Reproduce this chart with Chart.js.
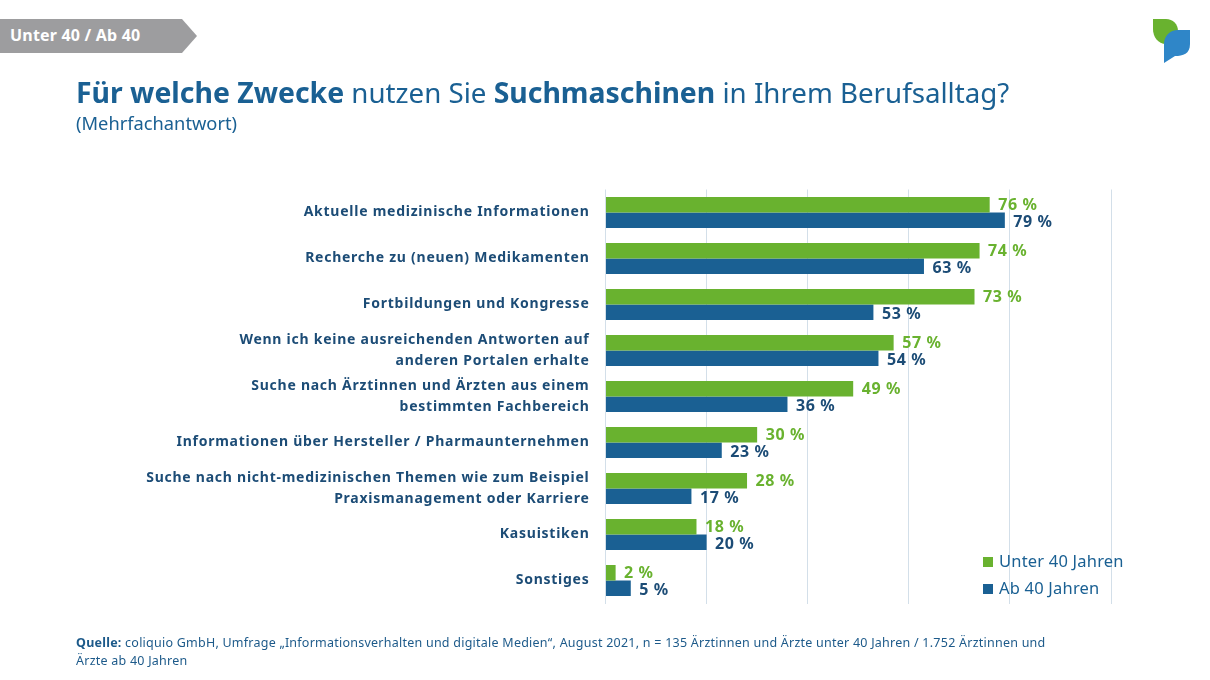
<!DOCTYPE html>
<html lang="de">
<head>
<meta charset="utf-8">
<title>Suchmaschinen im Berufsalltag</title>
<script src="https://cdn.jsdelivr.net/npm/chart.js@4"></script>
<style>
    html, body { margin: 0; padding: 0; background: #fff; }
    #page { position: relative; width: 1210px; height: 680px; overflow: hidden; font-family: "Noto Sans", sans-serif; color: #1a6093; }
    #page > * { position: absolute; }
    canvas { left: 0; top: 0; }
    .tag { left: 0; top: 19px; width: 197px; height: 34px; background: #9d9d9f; clip-path: polygon(0 0, 182px 0, 197px 17px, 182px 34px, 0 34px); color: #fff; font-weight: 700; font-size: 16px; letter-spacing: 0.2px; line-height: 33px; text-indent: 10px; }
    .logo { left: 1150px; top: 16px; }
    h1 { left: 76px; top: 73px; margin: 0; font-size: 27.7px; line-height: 38px; font-weight: 400; white-space: nowrap; }
    h1 b { font-weight: 700; font-size: 28.4px; }
    .sub { left: 76px; top: 111px; font-size: 18.3px; line-height: 24px; }
    .legend { left: 983px; top: 547px; font-size: 16.5px; letter-spacing: 0.2px; line-height: 27px; }
    .legend i { display: inline-block; width: 10px; height: 10px; margin-right: 6px; }
    .source { left: 76px; top: 634px; width: 1000px; font-size: 12.5px; letter-spacing: 0.24px; line-height: 17.5px; color: #1d5a8a; white-space: nowrap; }
</style>
</head>
<body>
<div id="page">
    <canvas id="chart" width="1210" height="680"></canvas>
    <div class="tag">Unter 40 / Ab 40</div>
    <svg class="logo" width="44" height="50" viewBox="0 0 44 50">
        <path d="M3 3 H16 C23 3 28 8 28 15 C28 21 24 28 16 28 C8 28 3 21 3 13 Z" fill="#69b22f"/>
        <path d="M40 14 V28 C40 38 33 40 25 40 L14 47 V28 C14 20 20 14 28 14 Z" fill="#2f86c8"/>
    </svg>
    <h1><b>Für welche Zwecke</b> nutzen Sie <b>Suchmaschinen</b> in Ihrem Berufsalltag?</h1>
    <div class="sub">(Mehrfachantwort)</div>
    <div class="legend" id="legend"></div>
    <div class="source"><b>Quelle:</b> coliquio GmbH, Umfrage „Informationsverhalten und digitale Medien“, August 2021, n = 135 Ärztinnen und Ärzte unter 40 Jahren / 1.752 Ärztinnen und<br>Ärzte ab 40 Jahren</div>
</div>
<script>
const categories = [
    'Aktuelle medizinische Informationen',
    'Recherche zu (neuen) Medikamenten',
    'Fortbildungen und Kongresse',
    ['Wenn ich keine ausreichenden Antworten auf', 'anderen Portalen erhalte'],
    ['Suche nach Ärztinnen und Ärzten aus einem', 'bestimmten Fachbereich'],
    'Informationen über Hersteller / Pharmaunternehmen',
    ['Suche nach nicht-medizinischen Themen wie zum Beispiel', 'Praxismanagement oder Karriere'],
    'Kasuistiken',
    'Sonstiges'
];
const unter40 = [76, 74, 73, 57, 49, 30, 28, 18, 2];
const ab40 = [79, 63, 53, 54, 36, 23, 17, 20, 5];

const GREEN = '#69b22f';
const BLUE = '#1a6093';
const NAVY = '#1c4c76';

// category labels in the original run wider than Noto Sans
const wideText = {
    id: 'wideText',
    beforeDraw(chart) {
        chart.ctx.letterSpacing = '0.75px';
    }
};

// draws the "76 %" labels next to the bars
const valueLabels = {
    id: 'valueLabels',
    afterDatasetsDraw(chart) {
        const ctx = chart.ctx;
        ctx.save();
        ctx.font = '700 16px "Noto Sans", sans-serif';
        ctx.letterSpacing = '0.6px';
        ctx.textBaseline = 'middle';
        ctx.textAlign = 'left';
        chart.data.datasets.forEach((ds, i) => {
            ctx.fillStyle = i === 0 ? GREEN : NAVY;
            chart.getDatasetMeta(i).data.forEach((bar, j) => {
                ctx.fillText(ds.data[j] + ' %', bar.x + 8.5, bar.y + (i === 0 ? 0.5 : 2));
            });
        });
        ctx.restore();
    }
};

const chart = new Chart(document.getElementById('chart'), {
    type: 'bar',
    data: {
        labels: categories,
        datasets: [
            { label: 'Unter 40 Jahren', data: unter40, backgroundColor: GREEN },
            { label: 'Ab 40 Jahren', data: ab40, backgroundColor: BLUE }
        ]
    },
    plugins: [wideText, valueLabels],
    options: {
        indexAxis: 'y',
        responsive: false,
        animation: false,
        categoryPercentage: 0.675,
        barPercentage: 1,
        layout: { padding: { top: 189.5, bottom: 76.5, right: 99, left: 0 } },
        plugins: { legend: { display: false }, tooltip: { enabled: false } },
        scales: {
            x: {
                min: 0,
                max: 100,
                ticks: { display: false, stepSize: 20 },
                grid: { color: '#d3dfe9', lineWidth: 1, drawTicks: false },
                border: { display: false }
            },
            y: {
                afterFit(scale) { scale.width = 605.5; },
                ticks: {
                    color: NAVY,
                    padding: 16,
                    autoSkip: false,
                    font: { family: '"Noto Sans", sans-serif', weight: '700', size: 14, lineHeight: 1.55 }
                },
                grid: { display: false, drawTicks: false },
                border: { display: false }
            }
        }
    }
});

document.getElementById('legend').innerHTML = chart.data.datasets
    .map(ds => `<div><i style="background:${ds.backgroundColor}"></i>${ds.label}</div>`)
    .join('');
</script>
</body>
</html>
